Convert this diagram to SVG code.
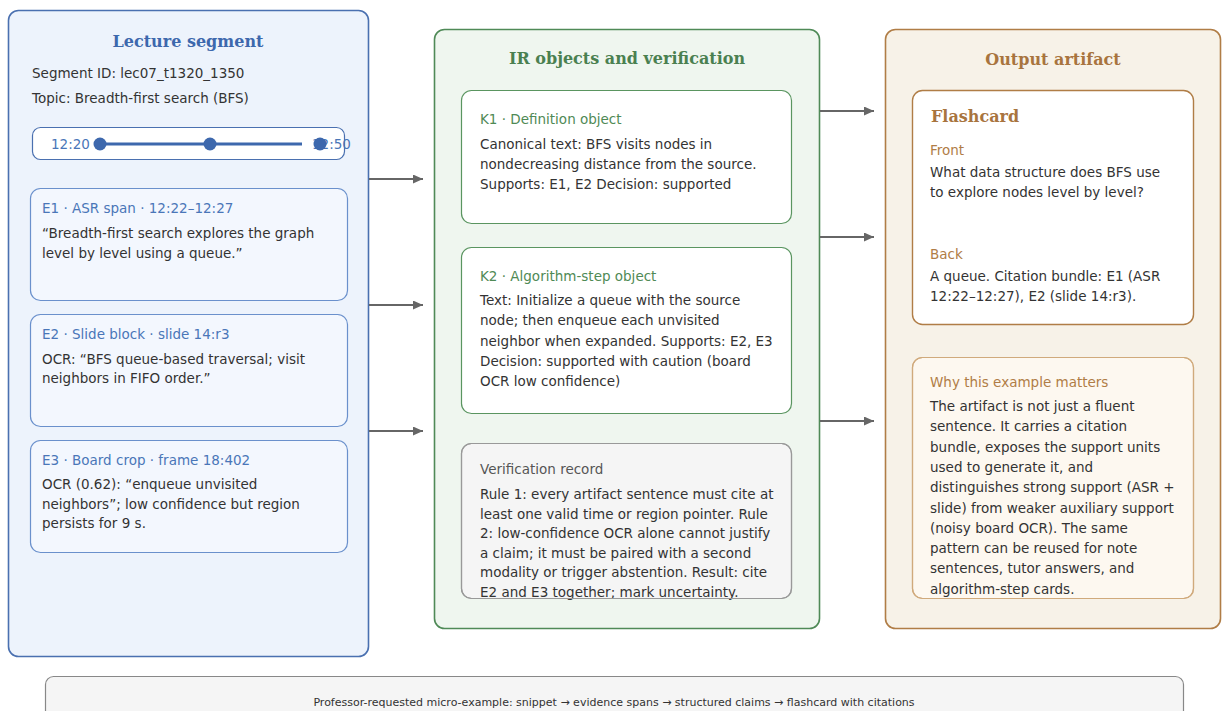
<svg xmlns="http://www.w3.org/2000/svg" width="1222" height="711" viewBox="0 0 1222 711">
  <defs>
    <marker id="arrow" viewBox="0 0 10 9" refX="10" refY="4.5" markerWidth="11" markerHeight="9" markerUnits="userSpaceOnUse" orient="auto">
      <path d="M0,0 L10,4.5 L0,9 z" fill="#666"/>
    </marker>
    <style>
      text { font-family: "DejaVu Sans", "Liberation Sans", sans-serif; font-size: 13.5px; fill: #333; }
      .head { font-family: "DejaVu Serif", "Liberation Serif", serif; font-weight: bold; font-size: 16px; text-anchor: middle; }
      .blue { fill: #3d68ad; }
      .green { fill: #4a8050; }
      .brown { fill: #a8743e; }
      .eblue { fill: #4a76b8; }
      .kgreen { fill: #4f8a55; }
      .lbrown { fill: #b07d46; }
      .grey { fill: #555; }
      .conn line { stroke: #666; stroke-width: 2; marker-end: url(#arrow); }
    </style>
  </defs>

  <!-- Lecture segment column -->
  <g id="lecture-segment">
    <rect x="8.5" y="10.5" width="360" height="646" rx="10" fill="#edf3fc" stroke="#4a70b0" stroke-width="1.6"/>
    <text class="head blue" x="188" y="47">Lecture segment</text>
    <text x="32" y="78">Segment ID: lec07_t1320_1350</text>
    <text x="32" y="103">Topic: Breadth-first search (BFS)</text>
  </g>

  <g id="timeline">
    <rect x="32.5" y="127.5" width="312" height="32" rx="8" fill="#fff" stroke="#4a70b0" stroke-width="1.2"/>
    <text class="eblue" x="51" y="149">12:20</text>
    <text class="eblue" x="312" y="149">12:50</text>
    <line x1="100" y1="144" x2="302" y2="144" stroke="#3d68ad" stroke-width="3"/>
    <circle cx="100" cy="144" r="6.5" fill="#3d68ad"/>
    <circle cx="210" cy="144" r="6.5" fill="#3d68ad"/>
    <circle cx="320" cy="144" r="6.5" fill="#3d68ad"/>
  </g>

  <g id="e1">
    <rect x="30.5" y="188.5" width="317" height="112" rx="10" fill="#f3f7fe" stroke="#6a90cc" stroke-width="1.2"/>
    <text class="eblue" x="42" y="213">E1 · ASR span · 12:22–12:27</text>
    <text x="42" y="238">“Breadth-first search explores the graph</text>
    <text x="42" y="257.5">level by level using a queue.”</text>
  </g>

  <g id="e2">
    <rect x="30.5" y="314.5" width="317" height="112" rx="10" fill="#f3f7fe" stroke="#6a90cc" stroke-width="1.2"/>
    <text class="eblue" x="42" y="339">E2 · Slide block · slide 14:r3</text>
    <text x="42" y="363.5">OCR: “BFS queue-based traversal; visit</text>
    <text x="42" y="383">neighbors in FIFO order.”</text>
  </g>

  <g id="e3">
    <rect x="30.5" y="440.5" width="317" height="112" rx="10" fill="#f3f7fe" stroke="#6a90cc" stroke-width="1.2"/>
    <text class="eblue" x="42" y="465">E3 · Board crop · frame 18:402</text>
    <text x="42" y="489">OCR (0.62): “enqueue unvisited</text>
    <text x="42" y="508.5">neighbors”; low confidence but region</text>
    <text x="42" y="528">persists for 9 s.</text>
  </g>

  <!-- IR objects column -->
  <g id="ir-objects">
    <rect x="434.5" y="29.5" width="385" height="599" rx="10" fill="#eff6ef" stroke="#4f8a57" stroke-width="1.6"/>
    <text class="head green" x="627" y="64">IR objects and verification</text>
  </g>

  <g id="k1">
    <rect x="461.5" y="90.5" width="330" height="133" rx="10" fill="#fff" stroke="#5a9560" stroke-width="1.2"/>
    <text class="kgreen" x="480" y="124">K1 · Definition object</text>
    <text x="480" y="149">Canonical text: BFS visits nodes in</text>
    <text x="480" y="169">nondecreasing distance from the source.</text>
    <text x="480" y="189">Supports: E1, E2 Decision: supported</text>
  </g>

  <g id="k2">
    <rect x="461.5" y="247.5" width="330" height="166" rx="10" fill="#fff" stroke="#5a9560" stroke-width="1.2"/>
    <text class="kgreen" x="480" y="281">K2 · Algorithm-step object</text>
    <text x="480" y="305">Text: Initialize a queue with the source</text>
    <text x="480" y="325.3">node; then enqueue each unvisited</text>
    <text x="480" y="345.6">neighbor when expanded. Supports: E2, E3</text>
    <text x="480" y="365.9">Decision: supported with caution (board</text>
    <text x="480" y="386.2">OCR low confidence)</text>
  </g>

  <g id="verification">
    <rect x="461.5" y="443.5" width="330" height="155" rx="10" fill="#f5f5f5" stroke="#999" stroke-width="1.2"/>
    <text class="grey" x="480" y="474">Verification record</text>
    <text x="480" y="499">Rule 1: every artifact sentence must cite at</text>
    <text x="480" y="518.5">least one valid time or region pointer. Rule</text>
    <text x="480" y="538">2: low-confidence OCR alone cannot justify</text>
    <text x="480" y="557.5">a claim; it must be paired with a second</text>
    <text x="480" y="577">modality or trigger abstention. Result: cite</text>
    <text x="480" y="596.5">E2 and E3 together; mark uncertainty.</text>
    <rect x="461.5" y="443.5" width="330" height="155" rx="10" fill="none" stroke="#999" stroke-width="1.2"/>
  </g>

  <!-- Output artifact column -->
  <g id="output-artifact">
    <rect x="885.5" y="29.5" width="335" height="599" rx="10" fill="#f7f2e8" stroke="#b07d46" stroke-width="1.6"/>
    <text class="head brown" x="1053" y="65">Output artifact</text>
  </g>

  <g id="flashcard">
    <rect x="912.5" y="90.5" width="281" height="234" rx="10" fill="#fff" stroke="#b07d46" stroke-width="1.4"/>
    <text class="head brown" x="931" y="122" style="text-anchor:start">Flashcard</text>
    <text class="lbrown" x="930" y="155">Front</text>
    <text x="930" y="177">What data structure does BFS use</text>
    <text x="930" y="197.3">to explore nodes level by level?</text>
    <text class="lbrown" x="930" y="259">Back</text>
    <text x="930" y="281">A queue. Citation bundle: E1 (ASR</text>
    <text x="930" y="301.3">12:22–12:27), E2 (slide 14:r3).</text>
  </g>

  <g id="why-it-matters">
    <rect x="912.5" y="357.5" width="281" height="241" rx="10" fill="#fdf8f0" stroke="#d0aa7c" stroke-width="1.2"/>
    <text class="lbrown" x="930" y="387">Why this example matters</text>
    <text x="930" y="411">The artifact is not just a fluent</text>
    <text x="930" y="431.3">sentence. It carries a citation</text>
    <text x="930" y="451.6">bundle, exposes the support units</text>
    <text x="930" y="471.9">used to generate it, and</text>
    <text x="930" y="492.2">distinguishes strong support (ASR +</text>
    <text x="930" y="512.5">slide) from weaker auxiliary support</text>
    <text x="930" y="532.8">(noisy board OCR). The same</text>
    <text x="930" y="553.1">pattern can be reused for note</text>
    <text x="930" y="573.4">sentences, tutor answers, and</text>
    <text x="930" y="593.7">algorithm-step cards.</text>
    <rect x="912.5" y="357.5" width="281" height="241" rx="10" fill="none" stroke="#d0aa7c" stroke-width="1.2"/>
  </g>

  <!-- Connectors between columns -->
  <g id="connectors" class="conn">
    <line x1="369" y1="179" x2="423" y2="179"/>
    <line x1="369" y1="305" x2="423" y2="305"/>
    <line x1="369" y1="431" x2="423" y2="431"/>
    <line x1="820" y1="111" x2="874" y2="111"/>
    <line x1="820" y1="237" x2="874" y2="237"/>
    <line x1="820" y1="421" x2="874" y2="421"/>
  </g>

  <!-- Caption bar -->
  <g id="caption">
    <rect x="45.5" y="676.5" width="1138" height="50" rx="8" fill="#f5f5f5" stroke="#888" stroke-width="1.2"/>
    <text x="614" y="706" style="font-size:11px;text-anchor:middle">Professor-requested micro-example: snippet → evidence spans → structured claims → flashcard with citations</text>
  </g>
</svg>
